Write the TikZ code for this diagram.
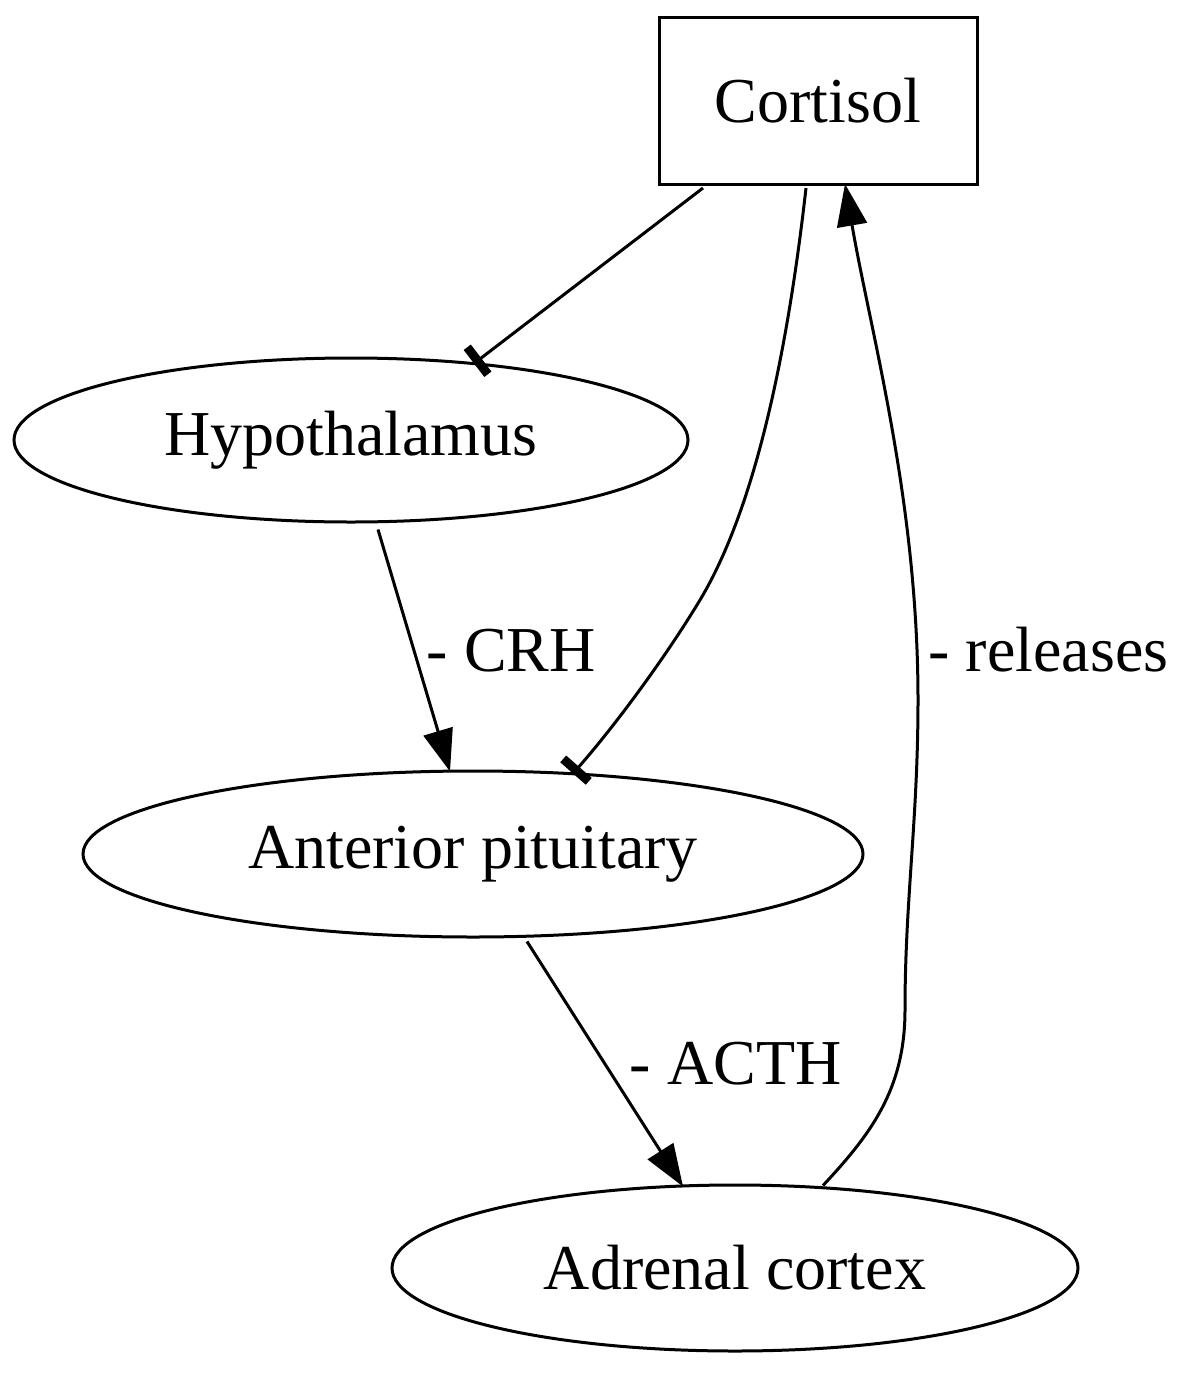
\documentclass[tikz,border=0pt]{standalone}
\usepackage{fontspec}
\setmainfont{Liberation Serif}
\usetikzlibrary{arrows.meta,shapes.geometric}
\begin{document}
\begin{tikzpicture}[x=1pt,y=-1pt,
  lbl/.style={font=\fontsize{64}{70}\selectfont},
  ell/.style={draw,line width=3pt,ellipse,inner sep=0pt,lbl},
  edge/.style={line width=3pt},
  arr/.style={edge,-{Triangle[length=42pt,width=30pt]}},
  tee/.style={edge,-{Bar[width=34pt,line width=9pt]}}]
\useasboundingbox (0,0) rectangle (1200,1373);
\node[draw,line width=3pt,lbl,minimum width=318pt,minimum height=167pt] (cort) at (818,101) {Cortisol};
\node[ell,minimum width=674pt,minimum height=164pt] (hyp) at (351,440) {Hypothalamus};
\node[ell,minimum width=780pt,minimum height=166pt] (ant) at (473,854) {Anterior pituitary};
\node[ell,minimum width=686pt,minimum height=166pt] (adr) at (735,1268) {Adrenal cortex};
\draw[tee] ([shift={(-115,2)}]cort.south) -- ([shift={(123,7)}]hyp.north);
\draw[tee] ([shift={(-12,2)}]cort.south) .. controls (790,330) and (760,500) .. (700,600)
  .. controls (670,650) and (620,720) .. ([shift={(100,4)}]ant.north);
\draw[arr] ([shift={(27,6)}]hyp.south) -- ([shift={(-23,2)}]ant.north)
  node[lbl,pos=0.5,right=8pt] (crh) {- CRH};
\draw[arr] ([shift={(54,3)}]ant.south) -- ([shift={(-52,3)}]adr.north)
  node[lbl,pos=0.5,right=20pt] (acth) {- ACTH};
\draw[arr] ([shift={(88,2)}]adr.north) .. controls (870,1135) and (905,1090) .. (905,1010)
  .. controls (905,900) and (918,820) .. (918,700)
  .. controls (918,500) and (870,330) .. ([shift={(27,-2)}]cort.south);
\node[lbl,anchor=west] (rel) at (925,650) {- releases};
\end{tikzpicture}
\end{document}
